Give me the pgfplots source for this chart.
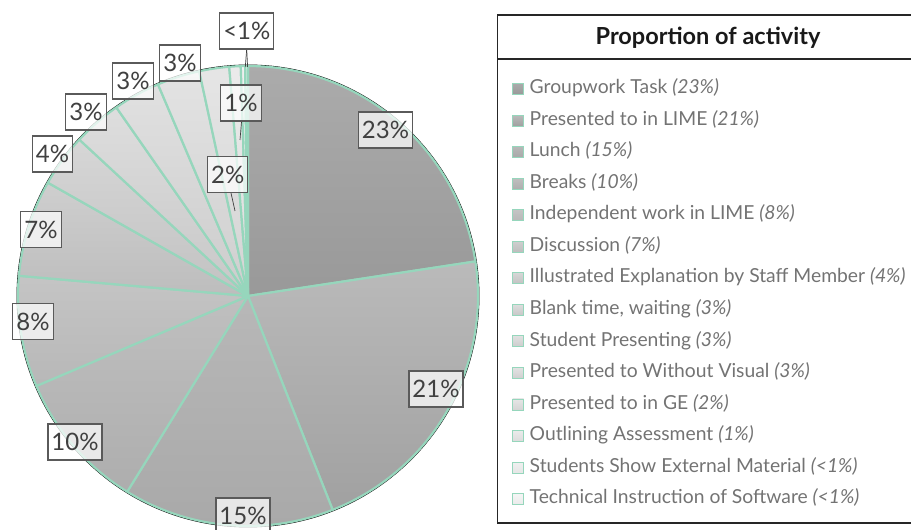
\documentclass[border=0pt]{standalone}
\usepackage{fontspec}
\setmainfont{Lato}
\usepackage{pgfplots}
\usepackage{pgfplotstable}
\pgfplotsset{compat=1.18}

\definecolor{mint}{HTML}{96D6BC}
\definecolor{lblborder}{HTML}{5A5A5A}
\definecolor{lbltext}{HTML}{404040}
\definecolor{legtext}{HTML}{737373}

% value = share in percent, gT / gB = gray level at top / bottom of the slice
\pgfplotstableread{
value gT   gB
22.6  0.67 0.60
21.4  0.73 0.63
14.8  0.72 0.66
9.8   0.75 0.68
7.8   0.77 0.72
6.8   0.81 0.74
3.7   0.84 0.76
3.4   0.87 0.78
3.3   0.88 0.80
3.0   0.89 0.81
2.1   0.90 0.83
0.8   0.92 0.86
0.3   0.94 0.90
0.2   0.96 0.92
}\pietable

\def\cum{0}
\pgfplotsforeachungrouped \i in {0,...,13}{%
  \pgfplotstablegetelem{\i}{value}\of\pietable
  \let\v\pgfplotsretval
  \pgfmathsetmacro\sa{90-3.6*\cum}%
  \pgfmathsetmacro\cum{\cum+\v}%
  \pgfmathsetmacro\ea{90-3.6*\cum}%
  \expandafter\xdef\csname sa\i\endcsname{\sa}%
  \expandafter\xdef\csname ea\i\endcsname{\ea}%
  \pgfplotstablegetelem{\i}{gT}\of\pietable
  \definecolor{cT\i}{gray}{\pgfplotsretval}%
  \pgfplotstablegetelem{\i}{gB}\of\pietable
  \definecolor{cB\i}{gray}{\pgfplotsretval}%
}

\begin{document}
\begin{tikzpicture}
\begin{axis}[
  x=1pt, y=1pt, xmin=0, xmax=911, ymin=0, ymax=530,
  scale only axis, hide axis, clip=false,
  anchor=south west, at={(0,0)},
]
% outer outline
\draw[black, line width=0.9pt] (axis cs:248,234) circle[radius=231pt];
% slices
\pgfplotsinvokeforeach{0,...,13}{
  \path[draw=mint, line width=2.2pt, line join=round, top color=cT#1, bottom color=cB#1]
    (axis cs:248,234) -- +(\csname sa#1\endcsname:230pt)
    arc[start angle=\csname sa#1\endcsname, end angle=\csname ea#1\endcsname, radius=230pt] -- cycle;
}
\end{axis}
% leader lines
\draw[lbltext, line width=0.7pt] (231pt,337pt) -- (235pt,319pt);
\draw[lbltext, line width=0.7pt] (241.5pt,408pt) -- (240pt,390pt);
\draw[lbltext, line width=0.7pt] (246.7pt,481pt) -- (245.3pt,463pt);
\draw[lbltext, line width=0.7pt] (246.7pt,481pt) -- (247.6pt,463pt);
% data labels
\tikzset{dl/.style={draw=lblborder, line width=1.1pt, fill=white, fill opacity=0.72, text opacity=1,
  text=lbltext, font=\fontsize{24}{24}\selectfont, minimum height=36pt, inner xsep=3.5pt, inner ysep=0pt}}
\node[dl] at (385.5pt,400pt) {23\%};
\node[dl] at (436pt,141pt) {21\%};
\node[dl] at (243pt,14pt) {15\%};
\node[dl] at (75pt,88pt) {10\%};
\node[dl] at (33pt,208.5pt) {8\%};
\node[dl] at (41pt,300.5pt) {7\%};
\node[dl] at (52.5pt,376pt) {4\%};
\node[dl] at (86pt,418pt) {3\%};
\node[dl] at (133pt,449pt) {3\%};
\node[dl] at (180pt,467pt) {3\%};
\node[dl] at (227.7pt,355.5pt) {2\%};
\node[dl] at (241pt,427pt) {1\%};
\node[dl] at (246.8pt,499pt) {<1\%};
% legend box
\draw[black!85, line width=1.5pt] (497.5pt,7pt) rectangle (915pt,515pt);
\draw[black!85, line width=1.5pt] (497.5pt,471pt) -- (915pt,471pt);
\node[font=\bfseries\fontsize{23.5}{24}\selectfont, text=black!90] at (708pt,492pt) {Proportion of activity};
\foreach \nm/\pc [count=\kk from 0] in {
  {Groupwork Task}/{23\%},
  {Presented to in LIME}/{21\%},
  {Lunch}/{15\%},
  {Breaks}/{10\%},
  {Independent work in LIME}/{8\%},
  {Discussion}/{7\%},
  {Illustrated Explanation by Staff Member}/{4\%},
  {Blank time, waiting}/{3\%},
  {Student Presenting}/{3\%},
  {Presented to Without Visual}/{3\%},
  {Presented to in GE}/{2\%},
  {Outlining Assessment}/{1\%},
  {Students Show External Material}/{<1\%},
  {Technical Instruction of Software}/{<1\%}}{
  \pgfmathsetmacro\yy{530-89-31.55*\kk}
  \path[draw=mint, line width=0.9pt, top color=cT\kk, bottom color=cB\kk]
    (512.5pt,\yy pt-5.5pt) rectangle (523.5pt,\yy pt+5.5pt);
  \node[anchor=west, inner sep=0pt, text=legtext, font=\fontsize{19.3}{19}\selectfont]
    at (529.5pt,\yy pt) {\nm\ \textit{(\pc)}\strut};
}
\pgfresetboundingbox
\path (0,0) rectangle (911pt,530pt);
\end{tikzpicture}
\end{document}
